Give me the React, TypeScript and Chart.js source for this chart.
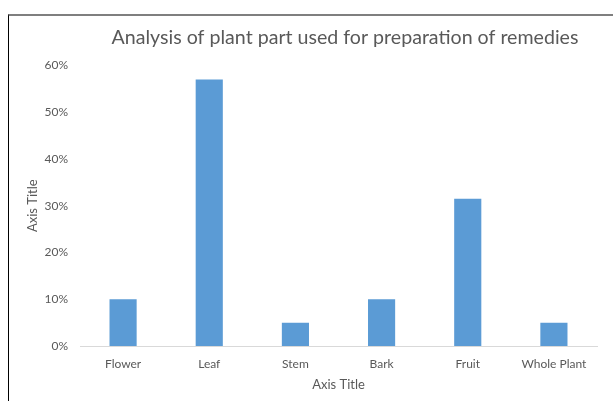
import React, { useEffect, useRef } from "react";
import { Chart, registerables } from "chart.js";

Chart.register(...registerables);

const categories = ["Flower", "Leaf", "Stem", "Bark", "Fruit", "Whole Plant"];
const values = [10, 57, 5, 10, 31.5, 5];
const yTicks = [0, 10, 20, 30, 40, 50, 60];
const chartTitle = "Analysis of plant part used for preparation of remedies";
const xAxisTitle = "Axis Title";
const yAxisTitle = "Axis Title";

const FONT = "Lato, 'Open Sans', sans-serif";
const GRAY = "#595959";

export default function App() {
  const ref = useRef<HTMLCanvasElement | null>(null);

  useEffect(() => {
    if (!ref.current) return;
    const chart = new Chart(ref.current, {
      type: "bar",
      data: {
        labels: categories,
        datasets: [
          {
            data: values,
            backgroundColor: "#5B9BD5",
            borderWidth: 0,
            barPercentage: 1,
            categoryPercentage: 0.315,
          },
        ],
      },
      options: {
        animation: false,
        responsive: false,
        maintainAspectRatio: false,
        layout: { padding: 0 },
        plugins: {
          legend: { display: false },
          tooltip: { enabled: false },
          title: {
            display: true,
            text: chartTitle,
            color: GRAY,
            font: { family: FONT, size: 19.6, weight: "normal" },
            padding: { top: 10, bottom: 16 },
          },
        },
        scales: {
          x: {
            grid: { display: false, drawTicks: false },
            border: { display: true, color: "#d9d9d9", width: 1 },
            ticks: { color: GRAY, font: { family: FONT, size: 12 }, padding: 11, maxRotation: 0 },
            title: {
              display: true,
              text: xAxisTitle,
              color: GRAY,
              font: { family: FONT, size: 13 },
              padding: { top: 4, bottom: 9 },
            },
            afterFit: (s: any) => {
              s.height = 56;
            },
          },
          y: {
            min: 0,
            max: 60,
            afterBuildTicks: (s: any) => {
              s.ticks = yTicks.map((v) => ({ value: v }));
            },
            grid: { display: false, drawTicks: false },
            border: { display: false },
            ticks: {
              color: GRAY,
              font: { family: FONT, size: 12 },
              padding: 12,
              callback: (v: any) => v + "%",
            },
            title: {
              display: true,
              text: yAxisTitle,
              color: GRAY,
              font: { family: FONT, size: 13 },
              padding: { top: 16, bottom: 4 },
            },
            afterFit: (s: any) => {
              s.width = 71;
            },
          },
          yRight: {
            type: "linear",
            position: "right",
            display: true,
            grid: { display: false, drawTicks: false },
            border: { display: false },
            ticks: { display: false },
            afterFit: (s: any) => {
              s.width = 84;
            },
          },
        },
      },
    });
    return () => chart.destroy();
  }, []);

  return (
    <div
      style={{
        position: "absolute",
        left: 8,
        top: 14,
        width: 605,
        height: 387,
        overflow: "hidden",
        background: "#fff",
      }}
    >
      <div
        style={{
          width: 700,
          height: 400,
          borderTop: "2px solid #7f7f7f",
          borderLeft: "1px solid #000",
          boxSizing: "border-box",
        }}
      >
        <canvas ref={ref} width={672} height={386} style={{ display: "block" }} />
      </div>
    </div>
  );
}
